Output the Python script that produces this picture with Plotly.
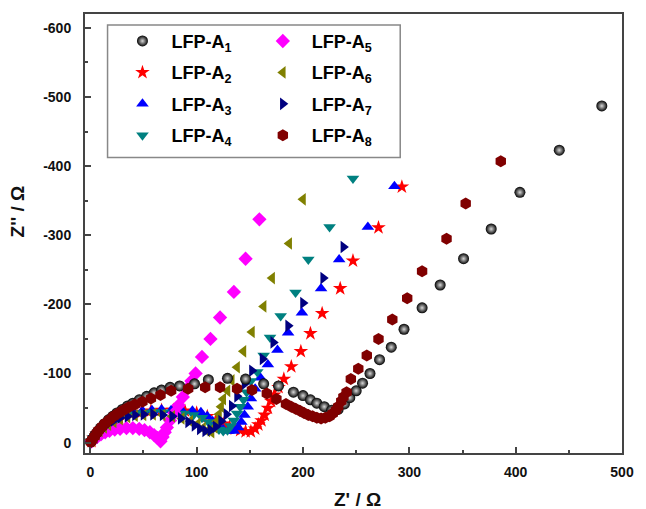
import plotly.graph_objects as go

# Nyquist data for the eight LFP-A samples: Z' (ohm) and Z'' (ohm, negative)
a1_x = [0.5, 2, 4, 6.5, 9.5, 13, 17, 21, 25, 30, 35, 40, 46, 53, 60, 67, 75, 84, 98, 111,
        129, 146, 163, 177, 191, 200, 207, 213, 220, 227, 233, 239, 244, 250, 256, 263,
        272, 283, 295, 312, 329, 351, 377, 404, 441, 481]
a1_y = [-1, -5, -10, -15, -21, -27, -33, -38, -43, -48, -53, -57, -62, -67, -72, -76, -80,
        -82, -85, -91, -93, -92, -85, -82, -73, -68, -62, -57, -52, -47, -48, -56, -65, -75,
        -86, -100, -120, -138, -164, -195, -228, -266, -309, -362, -423, -487]

a2_x = [1, 3, 6, 9, 13, 17, 22, 27, 33, 40, 48, 57, 67, 78, 89, 100, 110, 118, 125, 131,
        136, 141, 146, 151, 155, 158, 161, 164, 167, 170, 173, 177, 182, 189, 198, 207, 218,
        235, 247, 271, 293]
a2_y = [-2, -7, -13, -18, -23, -28, -32, -36, -39, -42, -44, -46, -47, -47, -46, -43, -38,
        -32, -27, -23, -20, -18, -16, -16, -20, -26, -32, -40, -50, -60, -69, -80, -92, -110,
        -132, -158, -187, -223, -263, -311, -370]

a3_x = [1, 3, 6, 9, 13, 17, 22, 28, 34, 41, 49, 58, 67, 76, 86, 96, 104, 110, 115, 120,
        125, 130, 135, 139, 142, 145, 148, 151, 155, 160, 167, 176, 186, 199, 217, 234, 261,
        286]
a3_y = [-2, -7, -13, -19, -24, -29, -34, -38, -41, -44, -46, -47, -48, -47, -47, -46, -44,
        -38, -31, -24, -19, -17, -17, -22, -30, -40, -52, -64, -78, -94, -113, -134, -159,
        -188, -223, -265, -312, -371]

a4_x = [1, 3, 6, 9, 13, 17, 22, 28, 35, 42, 50, 59, 68, 78, 88, 97, 105, 111, 116, 121,
        125, 129, 132, 135, 138, 141, 144, 147, 151, 157, 163, 169, 179, 193, 205, 225, 247]
a4_y = [-2, -7, -13, -18, -23, -28, -32, -36, -39, -41, -43, -44, -44, -43, -42, -40, -36,
        -30, -24, -19, -17, -18, -24, -32, -42, -52, -62, -73, -89, -102, -126, -152, -183,
        -217, -265, -312, -382]

a5_x = [0.5, 2, 4, 7, 10, 14, 18, 23, 28, 34, 40, 46, 51, 56, 60, 63, 66, 68, 70, 72, 75,
        79, 83, 87, 91, 95, 99, 105, 113, 122, 135, 146, 159]
a5_y = [-1, -3, -6, -9, -12, -15, -17, -19, -20, -21, -21, -20, -18, -15, -11, -7, -2, -8,
        -15, -22, -32, -43, -54, -66, -78, -89, -100, -124, -150, -181, -218, -266, -323]

a6_x = [1, 3, 6, 9, 13, 17, 22, 28, 35, 42, 50, 59, 68, 77, 86, 94, 101, 106, 110, 114,
        117, 119, 121, 123, 125, 129, 133, 138, 144, 152, 163, 171, 187, 200]
a6_y = [-2, -7, -12, -17, -22, -26, -30, -34, -37, -39, -40, -41, -40, -38, -35, -31, -27,
        -21, -17, -15, -22, -31, -41, -52, -63, -75, -90, -109, -132, -160, -197, -238, -288,
        -352]

a7_x = [1, 3, 6, 9, 13, 17, 22, 28, 35, 42, 50, 59, 68, 77, 85, 92, 98, 103, 108, 113,
        118, 123, 128, 133, 138, 145, 152, 162, 172, 186, 200, 219, 238]
a7_y = [-2, -7, -13, -18, -23, -28, -32, -36, -38, -40, -41, -41, -40, -38, -35, -30, -25,
        -20, -17, -18, -23, -31, -41, -53, -67, -85, -104, -121, -145, -169, -202, -238, -283]

a8_x = [0.5, 2, 4, 6, 8, 11, 14, 18, 22, 26, 31, 36, 42, 49, 57, 66, 76, 92, 108, 122, 138,
        152, 166, 175, 184, 189, 193, 197, 201, 205, 209, 213, 217, 221, 225, 228, 231, 233,
        236, 238, 241, 245, 252, 260, 271, 284, 298, 312, 335, 353, 386]
a8_y = [-1, -4, -9, -14, -18, -23, -28, -33, -38, -42, -47, -51, -55, -59, -64, -69, -75,
        -78, -80, -80, -78, -76, -71, -63, -56, -52, -49, -46, -43, -40, -38, -36, -35, -36,
        -38, -42, -47, -52, -60, -66, -73, -92, -107, -126, -150, -178, -209, -248, -295,
        -346, -407]

names = ["LFP-A<sub>1</sub>", "LFP-A<sub>2</sub>", "LFP-A<sub>3</sub>", "LFP-A<sub>4</sub>",
         "LFP-A<sub>5</sub>", "LFP-A<sub>6</sub>", "LFP-A<sub>7</sub>", "LFP-A<sub>8</sub>"]

x_ticks = [0, 100, 200, 300, 400, 500]
x_ticktext = ["0", "100", "200", "300", "400", "500"]
y_ticks = [0, -100, -200, -300, -400, -500, -600]
y_ticktext = ["0", "-100", "-200", "-300", "-400", "-500", "-600"]

xs = [a1_x, a2_x, a3_x, a4_x, a5_x, a6_x, a7_x, a8_x]
ys = [a1_y, a2_y, a3_y, a4_y, a5_y, a6_y, a7_y, a8_y]

colors = ["#000000", "#ff0000", "#0000ff", "#008080",
          "#ff00ff", "#808000", "#000080", "#800000"]
symbols = ["circle", "star", "triangle-up", "triangle-down",
           "diamond", "triangle-left", "triangle-right", "hexagon"]
sizes = [11, 11, 11, 11, 11, 11, 11, 12]

# samples 1 and 8 sit on top of the others
draw_order = [1, 2, 3, 4, 5, 6, 0, 7]

fig = go.Figure()
for i in draw_order:
    marker = dict(color=colors[i], symbol=symbols[i], size=sizes[i], line=dict(width=0))
    if i == 0:
        marker["gradient"] = dict(type="radial", color="#d8d8d8")
    fig.add_trace(go.Scatter(
        x=xs[i], y=ys[i], mode="markers", name=names[i], marker=marker,
        legend="legend" if i < 4 else "legend2",
        legendgroup="g%d" % i, legendrank=i + 1,
    ))

tick_font = dict(family="Liberation Sans, Arial, sans-serif", size=14, color="#111111",
                 weight="bold")
axis_common = dict(
    showline=True, linecolor="#444444", linewidth=2, mirror=True,
    showgrid=False, zeroline=False,
    ticks="inside", ticklen=6, tickwidth=1.5, tickcolor="#444444",
    tickfont=tick_font,
)

fig.update_xaxes(range=[-5, 500], tickvals=x_ticks, ticktext=x_ticktext,
                 ticklabelstandoff=5,
                 minor=dict(ticks="inside", tickvals=[50, 150, 250, 350, 450],
                            ticklen=3, tickcolor="#444444", tickwidth=1.5),
                 **axis_common)
fig.update_yaxes(range=[15, -620], tickvals=y_ticks, ticktext=y_ticktext,
                 ticklabelstandoff=9,
                 minor=dict(ticks="inside", tickvals=[-50, -150, -250, -350, -450, -550],
                            ticklen=3, tickcolor="#444444", tickwidth=1.5),
                 **axis_common)

legend_font = dict(family="Liberation Sans, Arial, sans-serif", size=18, color="#000000",
                   weight="bold")
legend_common = dict(font=legend_font, bgcolor="rgba(0,0,0,0)", borderwidth=0,
                     tracegroupgap=5, xanchor="left", yanchor="top", orientation="v",
                     itemwidth=48)

title_font = dict(family="Liberation Sans, Arial, sans-serif", size=19, color="#111111",
                  weight="bold")

fig.update_layout(
    width=646, height=509,
    margin=dict(l=85, r=14, t=12, b=56),
    paper_bgcolor="white", plot_bgcolor="white",
    showlegend=True,
    legend=dict(x=0.053, y=0.98, **legend_common),
    legend2=dict(x=0.3144, y=0.98, **legend_common),
    shapes=[dict(type="rect", xref="paper", yref="paper",
                 x0=0.042, x1=0.587, y0=0.673, y1=0.975,
                 line=dict(color="#888888", width=1.5), fillcolor="rgba(0,0,0,0)")],
    annotations=[
        dict(text="Z' / Ω", xref="paper", yref="paper", x=0.508, y=-0.105,
             xanchor="center", yanchor="middle", showarrow=False, font=title_font),
        dict(text="Z'' / Ω", xref="paper", yref="paper", x=-0.125, y=0.55,
             xanchor="center", yanchor="middle", showarrow=False, textangle=-90,
             font=title_font),
    ],
)

fig.write_html("out.html")
